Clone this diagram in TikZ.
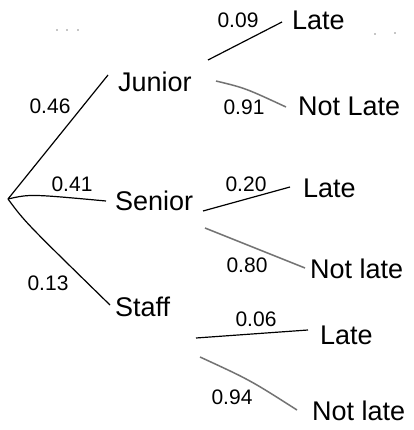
\documentclass[tikz,border=0pt]{standalone}
\usepackage{fontspec}
\setmainfont{Liberation Sans}
\begin{document}
\begin{tikzpicture}[x=1pt,y=-1pt,
  word/.style={anchor=west,inner sep=0pt,font=\fontsize{27}{29}\selectfont},
  prob/.style={inner sep=0pt,font=\fontsize{21}{23}\selectfont},
  branch/.style={line width=1.2pt,black},
  faint/.style={line width=1.5pt,black!55},
  speck/.style={fill=black!45,draw=none}]
\useasboundingbox (0,0) rectangle (413,430);
\fill[white] (0,0) rectangle (413,430);
% specks
\foreach \p in {(57,30),(67,30),(78,30),(375,34),(395,33)} \fill[speck] \p circle (0.8);
% root
\coordinate (root) at (8,199);
% first level nodes
\node[word] (junior) at (118,82) {Junior};
\node[word] (senior) at (115,201) {Senior};
\node[word] (staff) at (115,307) {Staff};
% second level nodes
\node[word] (jl) at (292,20) {Late};
\node[word] (jn) at (298,106) {Not Late};
\node[word] (sl) at (303,188) {Late};
\node[word] (sn) at (310,269) {Not late};
\node[word] (tl) at (320,335) {Late};
\node[word] (tn) at (312,411) {Not late};
% branch starts
\coordinate (jsA) at (208,60);
\coordinate (jsB) at (216,81);
\coordinate (ssA) at (203,211);
\coordinate (ssB) at (205,228);
\coordinate (tsA) at (196,338);
\coordinate (tsB) at (200,357);
% first level connectors
\draw[branch] (root) -- ([xshift=-10pt,yshift=7pt]junior.west);
\draw[branch] (root) .. controls (30,194) .. ([xshift=-9pt]senior.west);
\draw[branch] (root) .. controls (25,222) .. ([xshift=-5pt,yshift=2pt]staff.west);
% second level connectors
\draw[branch] (jsA) -- ([xshift=-10pt,yshift=-2pt]jl.west);
\draw[faint] (jsB) .. controls (245,88) .. ([xshift=-12pt,yshift=-1pt]jn.west);
\draw[branch] (ssA) -- ([xshift=-13pt,yshift=1pt]sl.west);
\draw[faint] (ssB) .. controls (255,248) .. ([xshift=-5pt,yshift=1pt]sn.west);
\draw[branch] (tsA) -- ([xshift=-12pt,yshift=5pt]tl.west);
\draw[faint] (tsB) .. controls (250,380) .. ([xshift=-15pt,yshift=1pt]tn.west);
% probabilities
\node[prob] (p1) at (50,106) {0.46};
\node[prob] (p2) at (72,184) {0.41};
\node[prob] (p3) at (48,283) {0.13};
\node[prob] (p4) at (238,20) {0.09};
\node[prob] (p5) at (244,107) {0.91};
\node[prob] (p6) at (246,184) {0.20};
\node[prob] (p7) at (247,265) {0.80};
\node[prob] (p8) at (256,319) {0.06};
\node[prob] (p9) at (232,397) {0.94};
\end{tikzpicture}
\end{document}
